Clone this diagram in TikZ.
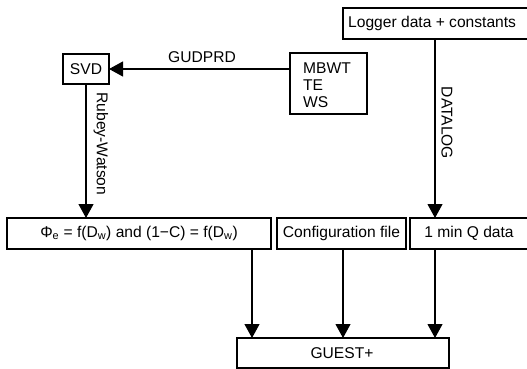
\documentclass[tikz,border=0pt]{standalone}
\usepackage{fontspec}
\setmainfont{Liberation Sans}
\usetikzlibrary{arrows.meta}
\begin{document}
\begin{tikzpicture}[x=1pt,y=-1pt,
  box/.style={draw,line width=1.4pt,inner sep=0pt},
  txt/.style={inner sep=0pt,font=\fontsize{15.6}{18}\selectfont},
  conn/.style={line width=1.1pt,-{Triangle[width=15pt,length=14pt]}},
  plain/.style={line width=1pt}]
\useasboundingbox (0,0) rectangle (527,369);
\begin{scope}
\clip (0,0) rectangle (527,369);
% boxes
\draw[box] (343,8) rectangle (540,39);
\node[txt,anchor=west] (logger) at (348,23.5) {Logger data + constants};
\draw[box] (63,54) rectangle (109,84);
\node[txt] (svd) at (86,69) {SVD};
\draw[box] (290,53) rectangle (367,114);
\node[txt,anchor=west] (mb1) at (303,68) {MBWT};
\node[txt,anchor=west] (mb2) at (303,85) {TE};
\node[txt,anchor=west] (mb3) at (303,102) {WS};
\draw[box] (7,218) rectangle (271,249);
\node[txt] (phi) at (139,233.5) {Φ\textsubscript{e} = f(D\textsubscript{w}) and (1−C) = f(D\textsubscript{w})};
\draw[box] (277,218) rectangle (406,249);
\node[txt] (conf) at (341.5,233.5) {Configuration file};
\draw[box] (410,218) rectangle (540,249);
\node[txt] (qdata) at (469,233.5) {1 min Q data};
\draw[box] (237,338) rectangle (449,368);
\node[txt] (guest) at (342,353) {GUEST+};
% coordinates
\coordinate (mbL) at (290,69);
\coordinate (svdR) at (109,69);
\coordinate (svdB) at (86,84);
\coordinate (phiT) at (86,218);
\coordinate (logB) at (435,39);
\coordinate (qT) at (435,218);
\coordinate (phiB) at (252,249);
\coordinate (confB) at (343,249);
\coordinate (qB) at (435,249);
\coordinate (g1) at (252,338);
\coordinate (g2) at (343,338);
\coordinate (g3) at (435,338);
% connectors
\draw[conn] (mbL) -- (svdR);
\draw[conn] (svdB) -- (phiT);
\draw[conn] (logB) -- (qT);
\draw[conn] (phiB) -- (g1);
\draw[conn] (confB) -- (g2);
\draw[conn] (qB) -- (g3);
% labels
\node[txt] (gud) at (202,57.5) {GUDPRD};
\node[txt,rotate=-90] (rw) at (101,144) {Rubey-Watson};
\node[txt,rotate=-90] (dl) at (447,123) {DATALOG};
\end{scope}
\end{tikzpicture}
\end{document}
